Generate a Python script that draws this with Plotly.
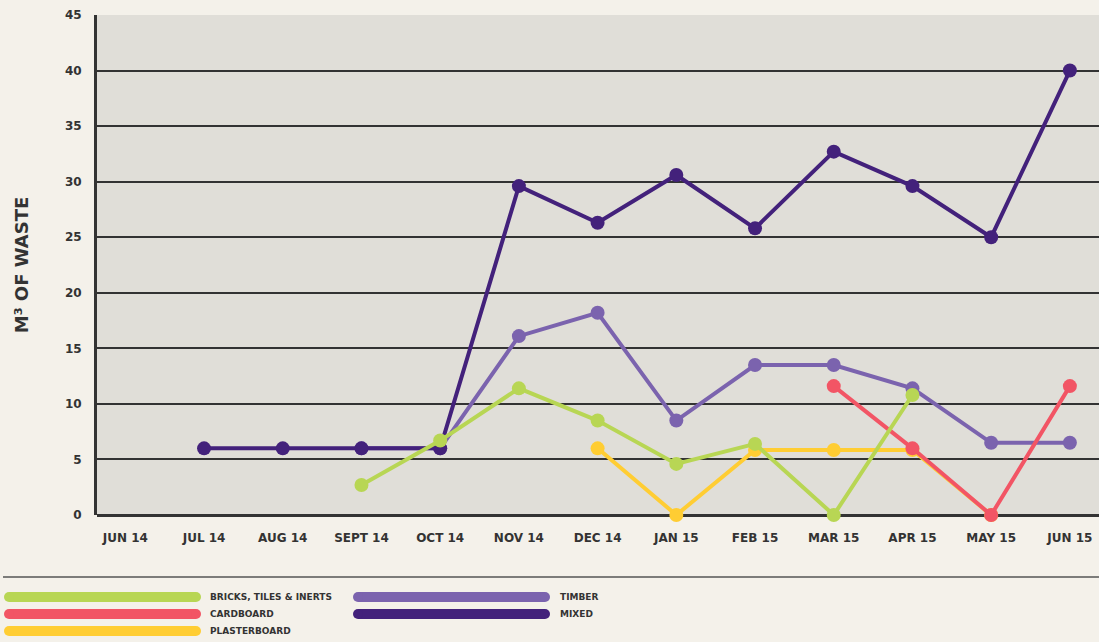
import plotly.graph_objects as go

months = ["JUN 14", "JUL 14", "AUG 14", "SEPT 14", "OCT 14", "NOV 14", "DEC 14",
          "JAN 15", "FEB 15", "MAR 15", "APR 15", "MAY 15", "JUN 15"]
bricks = [None, None, None, 2.7, 6.7, 11.4, 8.5, 4.6, 6.4, 0, 10.8, None, None]
cardboard = [None, None, None, None, None, None, None, None, None, 11.6, 6.0, 0, 11.6]
plasterboard = [None, None, None, None, None, None, 6.0, 0, 5.85, 5.85, 5.85, 0, None]
timber = [None, None, None, 6.0, 6.0, 16.1, 18.2, 8.5, 13.5, 13.5, 11.4, 6.5, 6.5]
mixed = [None, 6.0, 6.0, 6.0, 6.0, 29.6, 26.3, 30.6, 25.8, 32.7, 29.6, 25.0, 40.0]

series = [
    ("BRICKS, TILES & INERTS", bricks, "#b8d654"),
    ("CARDBOARD", cardboard, "#f25565"),
    ("PLASTERBOARD", plasterboard, "#ffcd33"),
    ("TIMBER", timber, "#7b63ae"),
    ("MIXED", mixed, "#43217b"),
]

BG = "#f4f1ea"
PLOT_BG = "#e0ded8"
DARK = "#333333"
FONT = "'DejaVu Sans', sans-serif"

fig = go.Figure()
for i in [3, 4, 2, 1, 0]:
    name, vals, col = series[i]
    fig.add_trace(go.Scatter(
        x=months, y=vals, mode="lines+markers", name=name,
        line=dict(color=col, width=4), marker=dict(color=col, size=14),
        connectgaps=False, showlegend=False, cliponaxis=False))

shapes = []
annotations = []
W = 1002.0
H = 500.0
# separator line
shapes.append(dict(type="line", xref="paper", yref="paper", x0=(3 - 97) / W, x1=1.0,
                   y0=(515 - 577) / H, y1=(515 - 577) / H,
                   line=dict(color="#555555", width=1.5)))

leg_pos = [(0, 0), (0, 1), (0, 2), (1, 0), (1, 1)]
for (name, vals, col), (c, r) in zip(series, leg_pos):
    px0 = 9 + c * 349
    px1 = 196 + c * 349
    py = 597 + r * 17
    x0 = (px0 - 97) / W
    x1 = (px1 - 97) / W
    yy = (515 - py) / H
    shapes.append(dict(type="line", xref="paper", yref="paper", x0=x0, x1=x1, y0=yy, y1=yy,
                       line=dict(color=col, width=10)))
    for xe in (x0, x1):
        shapes.append(dict(type="circle", xref="paper", yref="paper",
                           xsizemode="pixel", ysizemode="pixel",
                           xanchor=xe, yanchor=yy, x0=-5, x1=5, y0=-5, y1=5,
                           fillcolor=col, line=dict(width=0)))
    annotations.append(dict(xref="paper", yref="paper", x=(208 + c * 350 - 97) / W, y=yy,
                            xanchor="left", yanchor="middle", showarrow=False, text=name,
                            font=dict(family=FONT, size=9, color=DARK, weight="bold")))

fig.update_layout(
    width=1099, height=642,
    paper_bgcolor=BG, plot_bgcolor=PLOT_BG,
    margin=dict(l=97, r=0, t=15, b=127),
    font=dict(family=FONT, color=DARK),
    shapes=shapes, annotations=annotations,
    xaxis=dict(type="category", categoryorder="array", categoryarray=months,
               range=[-0.36, 12.37], showgrid=False, zeroline=False,
               showline=False, ticks="", ticklabelstandoff=14,
               tickfont=dict(family=FONT, size=12, color=DARK, weight="bold")),
    yaxis=dict(range=[0, 45], dtick=5, showgrid=True, gridcolor=DARK, gridwidth=2,
               zeroline=True, zerolinecolor=DARK, zerolinewidth=3,
               showline=True, linecolor=DARK, linewidth=3, mirror=False,
               ticks="", ticklabelstandoff=10,
               tickfont=dict(family=FONT, size=12, color=DARK, weight="bold"),
               title=dict(text="M³ OF WASTE", standoff=32,
                          font=dict(family=FONT, size=18, color=DARK, weight="bold"))),
)

fig.write_html("out.html", config={"displayModeBar": False},
               post_script="document.body.style.margin='0';")
